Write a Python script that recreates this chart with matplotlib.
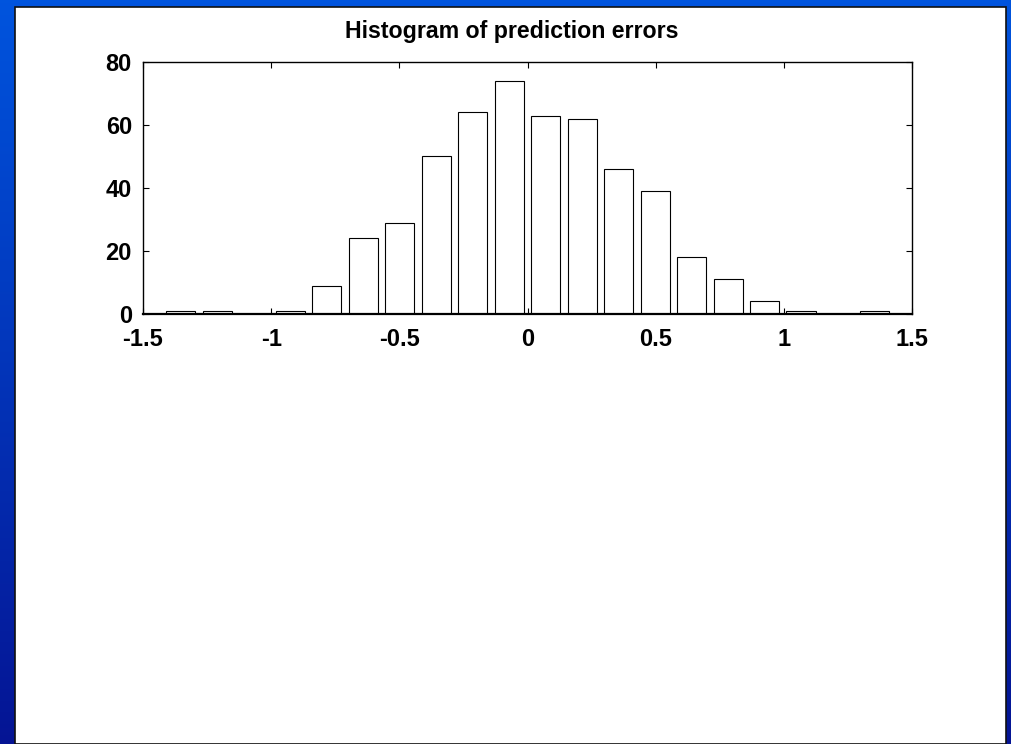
import numpy as np
import matplotlib
matplotlib.use("Agg")
import matplotlib.pyplot as plt
from matplotlib.patches import Rectangle

plt.rcParams['font.family'] = ['Liberation Sans', 'DejaVu Sans']

# histogram of prediction errors, 20 bins
bin_centers = [-1.352, -1.210, -1.067, -0.925, -0.783, -0.640, -0.498, -0.356,
               -0.214, -0.071, 0.071, 0.214, 0.356, 0.498, 0.640, 0.783,
               0.925, 1.067, 1.210, 1.352]
counts = [1, 1, 0, 1, 9, 24, 29, 50, 64, 74, 63, 62, 46, 39, 18, 11, 4, 1, 0, 1]
x_ticks = [-1.5, -1, -0.5, 0, 0.5, 1, 1.5]
x_ticklabels = ['-1.5', '-1', '-0.5', '0', '0.5', '1', '1.5']
y_ticks = [0, 20, 40, 60, 80]

W, H = 1011, 744
fig = plt.figure(figsize=(W / 100, H / 100), dpi=100)

# blue frame behind the white sheet
bg = fig.add_axes([0, 0, 1, 1], zorder=-2)
grad = np.linspace(0, 1, 256).reshape(-1, 1)
top = np.array([0.0, 0.33, 0.87])
bot = np.array([0.02, 0.08, 0.58])
img = top + grad[..., None] * (bot - top)
bg.imshow(img.reshape(256, 1, 3), aspect='auto', extent=[0, 1, 0, 1], origin='upper')
bg.add_patch(Rectangle((15 / W, 0), (1006 - 15) / W, (H - 7) / H,
                       facecolor='white', edgecolor='#101010', lw=1.2))
bg.set_xlim(0, 1)
bg.set_ylim(0, 1)
bg.axis('off')

ax = fig.add_axes([143 / W, (H - 314) / H, (912 - 143) / W, (314 - 62) / H])
binw = bin_centers[1] - bin_centers[0]
ax.bar(bin_centers, counts, width=0.8 * binw, facecolor='white',
       edgecolor='black', linewidth=0.8, zorder=3)

ax.set_xlim(-1.5, 1.5)
ax.set_ylim(0, 80)
ax.set_xticks(x_ticks)
ax.set_xticklabels(x_ticklabels)
ax.set_yticks(y_ticks)
ax.tick_params(direction='in', length=4, width=0.8, top=True, right=True,
               labelsize=17, color='black')
ax.tick_params(axis='x', pad=10)
ax.tick_params(axis='y', pad=8)
for lab in ax.get_xticklabels() + ax.get_yticklabels():
    lab.set_fontweight('bold')
for sp in ax.spines.values():
    sp.set_linewidth(1.0)
    sp.set_zorder(4)
ax.spines['bottom'].set_linewidth(1.6)

ax.set_title('Histogram of prediction errors', fontsize=16.7, fontweight='bold',
             x=0.48, pad=17)

fig.savefig('out.png', dpi=100)
